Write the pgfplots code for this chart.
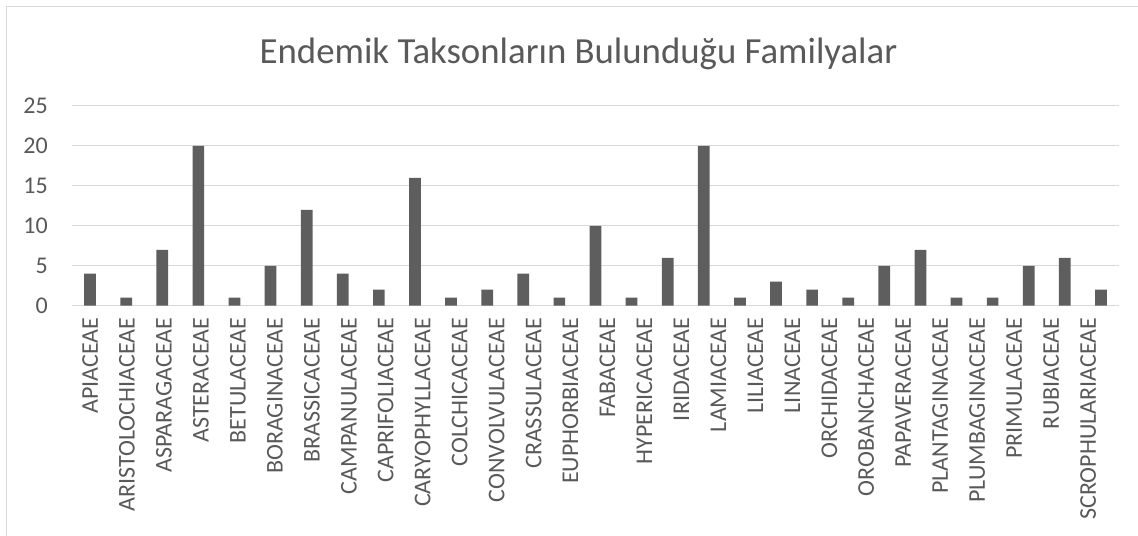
\documentclass[border=0pt]{standalone}
\usepackage{fontspec}
\setmainfont{Carlito}
\usepackage{pgfplots}
\pgfplotsset{compat=1.18}
\definecolor{barcol}{HTML}{5E5E5E}
\definecolor{gridcol}{HTML}{D9D9D9}
\definecolor{txtcol}{HTML}{595959}
\begin{document}
\begin{tikzpicture}
\useasboundingbox (0,0) rectangle (1138bp,536bp);
\fill[white] (0,0) rectangle (1138bp,536bp);
\draw[gridcol, line width=1.2bp] (6.5bp,0) -- (6.5bp,529.5bp) -- (1138bp,529.5bp);
\node[anchor=base, text=txtcol, font=\fontsize{36.8bp}{44bp}\selectfont] at (578.5bp,472bp) {Endemik Taksonların Bulunduğu Familyalar};
\begin{axis}[
  at={(72bp,230.3bp)}, anchor=south west,
  scale only axis, width=1047bp, height=199.7bp,
  xmin=-0.5, xmax=28.5, ymin=0, ymax=25,
  ytick={0,5,10,15,20,25},
  axis line style={draw=none},
  tick style={draw=none},
  major tick length=0pt,
  ymajorgrids, grid style={color=gridcol, line width=1bp},
  /pgf/number format/assume math mode=true,
  tick label style={text=txtcol, font=\fontsize{24bp}{28bp}\selectfont},
  yticklabel style={anchor=east, inner sep=0pt},
  yticklabel shift=24bp,
  xticklabel style={rotate=90, anchor=east, inner sep=0pt},
  xticklabel shift=12bp,
  xtick={0,1.024,2.048,3.071,4.095,5.119,6.143,7.167,8.190,9.214,10.238,11.262,12.286,13.309,14.333,15.357,16.381,17.405,18.428,19.452,20.476,21.500,22.524,23.547,24.571,25.595,26.619,27.643},
  xticklabels={APIACEAE,ARISTOLOCHIACEAE,ASPARAGACEAE,ASTERACEAE,BETULACEAE,BORAGINACEAE,BRASSICACEAE,CAMPANULACEAE,CAPRIFOLIACEAE,CARYOPHYLLACEAE,COLCHICACEAE,CONVOLVULACEAE,CRASSULACEAE,EUPHORBIACEAE,FABACEAE,HYPERICACEAE,IRIDACEAE,LAMIACEAE,LILIACEAE,LINACEAE,ORCHIDACEAE,OROBANCHACEAE,PAPAVERACEAE,PLANTAGINACEAE,PLUMBAGINACEAE,PRIMULACEAE,RUBIACEAE,SCROPHULARIACEAE},
  ybar, bar width=11.7bp,
]
\addplot[fill=barcol, draw=none] coordinates {
(0,4) (1,1) (2,7) (3,20) (4,1) (5,5) (6,12) (7,4) (8,2) (9,16)
(10,1) (11,2) (12,4) (13,1) (14,10) (15,1) (16,6) (17,20) (18,1) (19,3)
(20,2) (21,1) (22,5) (23,7) (24,1) (25,1) (26,5) (27,6) (28,2)
};
\end{axis}
\end{tikzpicture}
\end{document}
